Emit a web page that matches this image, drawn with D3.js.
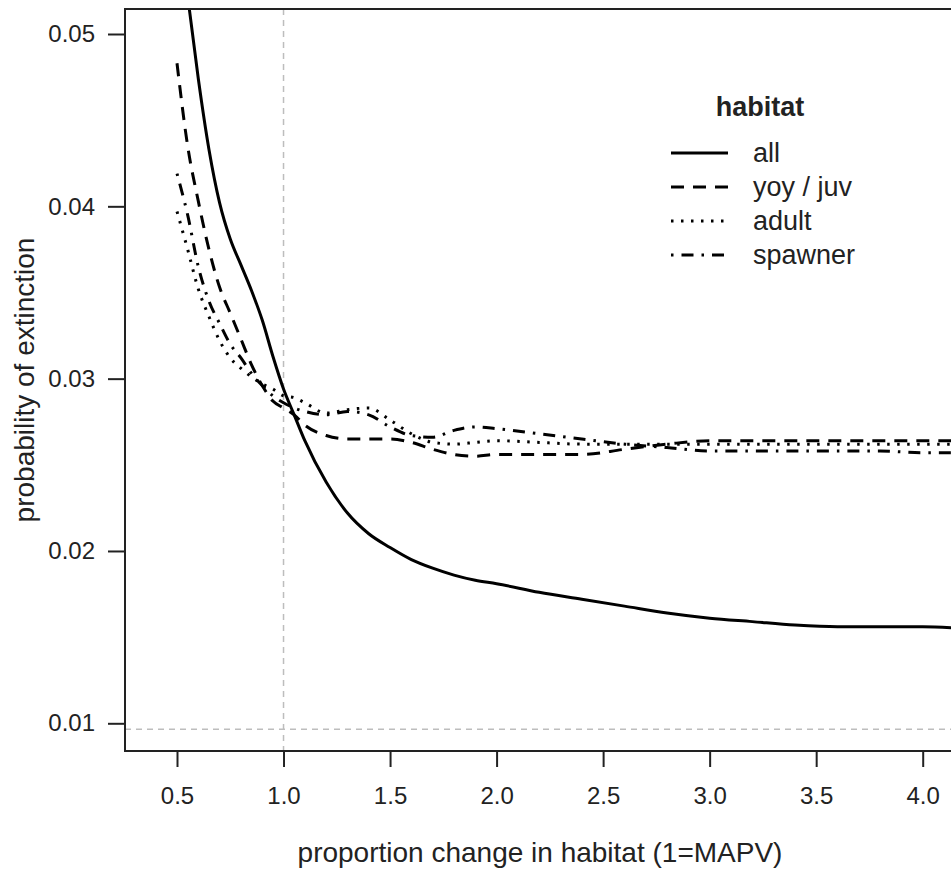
<!DOCTYPE html>
<html>
<head>
<meta charset="utf-8">
<script src="https://cdn.jsdelivr.net/npm/d3@7"></script>
<style>
  body { margin: 0; background: #fff; }
  svg { display: block; font-family: "Liberation Sans", Arial, sans-serif; }
</style>
</head>
<body>
<svg id="chart" width="951" height="869"></svg>
<script>
// values
const habitat = [0.5, 0.55, 0.6, 0.65, 0.7, 0.75, 0.8, 0.85, 0.9, 0.95, 1.0, 1.05, 1.1, 1.2, 1.3, 1.4, 1.5, 1.6, 1.7, 1.8, 1.9, 2.0, 2.2, 2.4, 2.6, 2.8, 3.0, 3.2, 3.4, 3.6, 3.8, 4.0, 4.2]

const all = [0.0575, 0.0522, 0.0474, 0.0433, 0.0402, 0.0381, 0.0366, 0.0351, 0.0334, 0.0313, 0.0294, 0.0279, 0.0264, 0.0240, 0.0222, 0.0210, 0.0202, 0.0195, 0.0190, 0.0186, 0.0183, 0.0181, 0.0176, 0.0172, 0.0168, 0.0164, 0.0161, 0.0159, 0.0157, 0.0156, 0.0156, 0.0156, 0.0155]
const yoyJuv = [0.0483, 0.0435, 0.0403, 0.0375, 0.0353, 0.0338, 0.0323, 0.0308, 0.0296, 0.0287, 0.0283, 0.0279, 0.0273, 0.0267, 0.0265, 0.0265, 0.0265, 0.0263, 0.0259, 0.0256, 0.0255, 0.0256, 0.0256, 0.0256, 0.0259, 0.0262, 0.0264, 0.0264, 0.0264, 0.0264, 0.0264, 0.0264, 0.0264]
const adult = [0.0397, 0.0375, 0.0352, 0.0336, 0.0322, 0.0312, 0.0306, 0.0301, 0.0297, 0.0294, 0.0290, 0.0289, 0.0286, 0.0280, 0.0282, 0.0283, 0.0276, 0.0268, 0.0263, 0.0262, 0.0263, 0.0264, 0.0263, 0.0262, 0.0262, 0.0262, 0.0262, 0.0262, 0.0262, 0.0262, 0.0262, 0.0262, 0.0262]
const spawner = [0.0419, 0.0395, 0.0365, 0.0345, 0.0332, 0.0320, 0.0312, 0.0303, 0.0296, 0.0290, 0.0286, 0.0283, 0.0281, 0.0279, 0.0281, 0.0279, 0.0272, 0.0267, 0.0266, 0.0270, 0.0272, 0.0271, 0.0268, 0.0265, 0.0262, 0.0260, 0.0258, 0.0258, 0.0258, 0.0258, 0.0258, 0.0257, 0.0257]

const xTicks = [0.5, 1.0, 1.5, 2.0, 2.5, 3.0, 3.5, 4.0]
const yTicks = [0.01, 0.02, 0.03, 0.04, 0.05]
const refX = 1.0
const refY = 0.00965

const series = [
  {name: "all", values: all, dash: null},
  {name: "yoy / juv", values: yoyJuv, dash: "13,9"},
  {name: "adult", values: adult, dash: "2.5,7.5"},
  {name: "spawner", values: spawner, dash: "2.5,8,12,8"}
]

const width = 951, height = 869
const box = {left: 125, top: 9, bottom: 751, right: 960}

const x = d3.scaleLinear().domain([0.5, 4.0]).range([177, 922.7])
const y = d3.scaleLinear().domain([0.05, 0.01]).range([34, 723.3])

const svg = d3.select("#chart")

svg.append("defs").append("clipPath").attr("id", "plotclip")
  .append("rect")
  .attr("x", box.left).attr("y", box.top)
  .attr("width", box.right - box.left).attr("height", box.bottom - box.top)

// reference lines
svg.append("line")
  .attr("x1", x(refX)).attr("x2", x(refX))
  .attr("y1", box.top).attr("y2", box.bottom)
  .attr("stroke", "#bdbdbd").attr("stroke-width", 1.5)
  .attr("stroke-dasharray", "6,5")
svg.append("line")
  .attr("x1", box.left).attr("x2", box.right)
  .attr("y1", y(refY)).attr("y2", y(refY))
  .attr("stroke", "#bdbdbd").attr("stroke-width", 1.5)
  .attr("stroke-dasharray", "6,5")

const line = d3.line()
  .curve(d3.curveMonotoneX)
  .x((d, i) => x(habitat[i]))
  .y(d => y(d))

svg.append("g")
  .attr("clip-path", "url(#plotclip)")
  .selectAll("path")
  .data(series)
  .join("path")
    .attr("fill", "none")
    .attr("stroke", "#000")
    .attr("stroke-width", 3)
    .attr("stroke-dasharray", d => d.dash)
    .attr("d", d => line(d.values))

// frame
svg.append("path")
  .attr("d", `M${box.right},${box.top}H${box.left}V${box.bottom}H${box.right}`)
  .attr("fill", "none").attr("stroke", "#222").attr("stroke-width", 2)

// axes
const xAxis = svg.append("g")
  .attr("transform", `translate(0,${box.bottom})`)
  .call(d3.axisBottom(x).tickValues(xTicks).tickFormat(d3.format(".1f")).tickSize(16).tickPadding(20))
xAxis.select(".domain").remove()

const yAxis = svg.append("g")
  .attr("transform", `translate(${box.left},0)`)
  .call(d3.axisLeft(y).tickValues(yTicks).tickFormat(d3.format(".2f")).tickSize(17).tickPadding(13))
yAxis.select(".domain").remove()

svg.selectAll(".tick line").attr("stroke", "#222").attr("stroke-width", 2)
svg.selectAll(".tick text").attr("font-size", 24).attr("fill", "#222")
  .attr("font-family", "Liberation Sans, Arial, sans-serif")

svg.append("text")
  .attr("x", 540).attr("y", 862)
  .attr("text-anchor", "middle")
  .attr("font-size", 28).attr("fill", "#222")
  .text("proportion change in habitat (1=MAPV)")

svg.append("text")
  .attr("transform", `translate(34,${(box.top + box.bottom) / 2}) rotate(-90)`)
  .attr("text-anchor", "middle")
  .attr("font-size", 28).attr("fill", "#222")
  .text("probability of extinction")

// legend
const legend = svg.append("g")
legend.append("text")
  .attr("x", 760).attr("y", 116)
  .attr("text-anchor", "middle")
  .attr("font-size", 27).attr("font-weight", "bold").attr("fill", "#222")
  .text("habitat")

const row = legend.selectAll("g.item")
  .data(series)
  .join("g")
    .attr("class", "item")
    .attr("transform", (d, i) => `translate(0,${153 + i * 34})`)
row.append("line")
  .attr("x1", 671).attr("x2", 728)
  .attr("stroke", "#000").attr("stroke-width", 3)
  .attr("stroke-dasharray", d => d.dash)
row.append("text")
  .attr("x", 753).attr("y", 9)
  .attr("font-size", 27).attr("fill", "#222")
  .text(d => d.name)
</script>
</body>
</html>
